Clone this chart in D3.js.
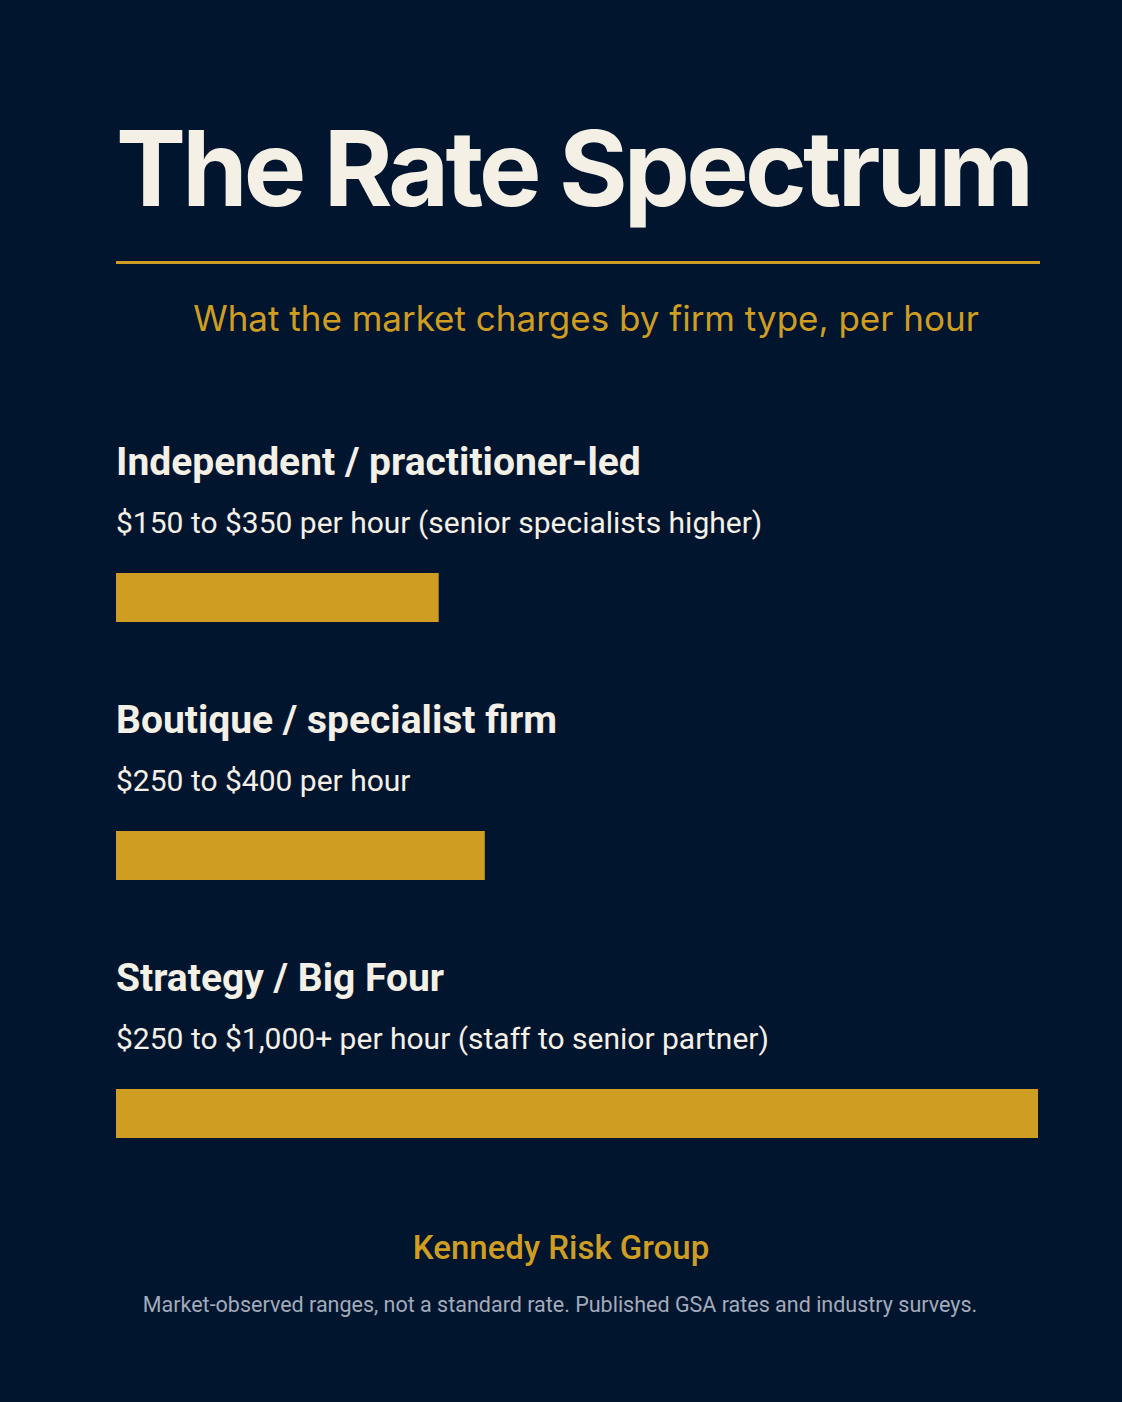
<!DOCTYPE html>
<html><head><meta charset="utf-8">
<script src="https://cdn.jsdelivr.net/npm/d3@7"></script>
<style>html,body{margin:0;padding:0;background:#02152f;}svg{display:block;}</style>
</head><body>
<script>
const categories = ["Independent / practitioner-led", "Boutique / specialist firm", "Strategy / Big Four"];
const rangeLabels = ["$150 to $350 per hour (senior specialists higher)", "$250 to $400 per hour", "$250 to $1,000+ per hour (staff to senior partner)"];
const maxRates = [350, 400, 1000];
const domainMax = 1000;
const title = "The Rate Spectrum";
const subtitle = "What the market charges by firm type, per hour";
const brand = "Kennedy Risk Group";
const note = "Market-observed ranges, not a standard rate. Published GSA rates and industry surveys.";

const W = 1122, H = 1402;
const gold = "#cf9d22", cream = "#f4f0e6", navy = "#02152f";
const svg = d3.select("body").append("svg").attr("width", W).attr("height", H);
svg.append("rect").attr("width", W).attr("height", H).attr("fill", navy);

const x = d3.scaleLinear().domain([0, domainMax]).range([116, 1038]);
const y = d3.scaleBand().domain(categories).range([438, 1212]).padding(0);

svg.append("text").attr("x", 116).attr("y", 206).text(title)
  .attr("font-family", "Inter").attr("font-weight", 700).attr("font-size", 105)
  .attr("fill", cream).attr("letter-spacing", -3.8);
svg.append("line").attr("x1", 116).attr("x2", 1040).attr("y1", 262.5).attr("y2", 262.5)
  .attr("stroke", gold).attr("stroke-width", 3);
svg.append("text").attr("x", 586).attr("y", 331).attr("text-anchor", "middle").text(subtitle)
  .attr("font-family", "Inter").attr("font-weight", 400).attr("font-size", 35).attr("fill", gold);

const g = svg.selectAll("g.row").data(categories).join("g").attr("class", "row")
  .attr("transform", d => `translate(0,${y(d)})`);
g.append("text").attr("x", 116).attr("y", 37).text(d => d)
  .attr("font-family", "Roboto").attr("font-weight", 700).attr("font-size", 39).attr("fill", cream);
g.append("text").attr("x", 116).attr("y", 95).text((d, i) => rangeLabels[i])
  .attr("font-family", "Roboto").attr("font-weight", 400).attr("font-size", 30).attr("fill", cream);
g.append("rect").attr("x", x(0)).attr("y", 135).attr("height", 49)
  .attr("width", (d, i) => x(maxRates[i]) - x(0)).attr("fill", gold);

svg.append("text").attr("x", 561).attr("y", 1259).attr("text-anchor", "middle").text(brand)
  .attr("font-family", "Roboto").attr("font-weight", 500).attr("font-size", 33).attr("fill", gold);
svg.append("text").attr("x", 560).attr("y", 1312).attr("text-anchor", "middle").text(note)
  .attr("font-family", "Roboto").attr("font-weight", 400).attr("font-size", 21.5).attr("fill", "#a3abba");
</script>
</body></html>
